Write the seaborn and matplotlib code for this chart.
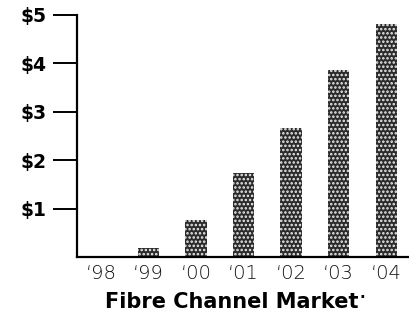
import matplotlib
matplotlib.use("Agg")
import matplotlib.pyplot as plt
import seaborn as sns
import pandas as pd

# Fibre Channel market size, billions of dollars
years = ["\u201898", "\u201899", "\u201800", "\u201801", "\u201802", "\u201803", "\u201804"]
revenue = [0.02, 0.18, 0.76, 1.73, 2.66, 3.86, 4.82]
ytick_values = [1, 2, 3, 4, 5]
ytick_labels = ["$1", "$2", "$3", "$4", "$5"]
title = "Fibre Channel Market"

sns.set_style("white")
plt.rcParams["font.family"] = ["DejaVu Sans"]
plt.rcParams["hatch.linewidth"] = 1.2
plt.rcParams["text.color"] = "black"

df = pd.DataFrame({"year": years, "revenue": revenue})

fig = plt.figure(figsize=(4.10, 3.26), dpi=100)
ax = fig.add_axes([0.188, 0.212, 0.812, 0.742])

sns.barplot(data=df, x="year", y="revenue", order=years, ax=ax,
            color="#2b2b2b", width=0.45, saturation=1)
for patch in ax.patches:
    patch.set_hatch("....")
    patch.set_edgecolor("#eeeeee")
    patch.set_linewidth(0)

ax.set_xlim(-0.5, 6.5)
ax.set_ylim(0, 5)
ax.set_yticks(ytick_values)
ax.set_yticklabels(ytick_labels, fontsize=13.5, fontweight="bold", color="black")
ax.set_xticks(range(len(years)))
ax.set_xticklabels(years, fontsize=14, fontweight="light", color="#111111")
ax.set_xlabel("")
ax.set_ylabel("")

for side in ["top", "right"]:
    ax.spines[side].set_visible(False)
for side in ["left", "bottom"]:
    ax.spines[side].set_color("black")
    ax.spines[side].set_linewidth(1.6)

ax.tick_params(axis="y", left=True, direction="out", length=17, width=1.4,
               color="black", pad=5)
ax.tick_params(axis="x", bottom=False, length=0, pad=5)

ttl = fig.text(0.565, 0.075, title, ha="center", va="center",
               fontsize=15, fontweight="bold")
fig.canvas.draw()
bb = ttl.get_window_extent().transformed(fig.transFigure.inverted())
fig.text(bb.x1 + 0.003, bb.y1 - 0.018, "\u00b7", ha="left", va="center",
         fontsize=11, fontweight="bold")

fig.savefig("out.png", dpi=100)
